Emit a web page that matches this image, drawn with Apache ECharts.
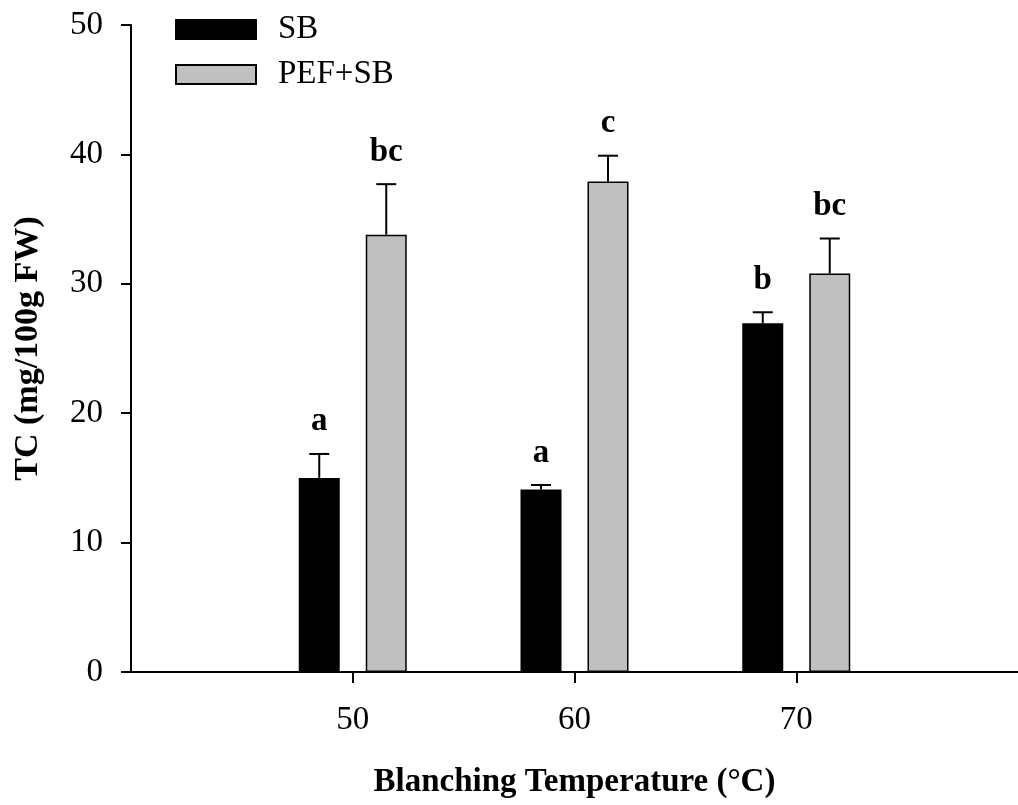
<!DOCTYPE html>
<html><head><meta charset="utf-8">
<script src="https://cdn.jsdelivr.net/npm/echarts@6/dist/echarts.min.js"></script>
<style>html,body{margin:0;padding:0;background:#fff}#c{width:1018px;height:805px}</style>
</head><body><div id="c"></div>
<script>
const temps = [50, 60, 70];
const sbMean = [15.0, 14.1, 26.95];
const sbErr = [1.85, 0.35, 0.85];
const sbLetters = ['a', 'a', 'b'];
const pefMean = [33.8, 37.9, 30.8];
const pefErr = [3.9, 2.0, 2.7];
const pefLetters = ['bc', 'c', 'bc'];
const yTicks = [0, 10, 20, 30, 40, 50];

const FONT = '"Liberation Serif","Times New Roman",serif';
const BAR_W = 41, BAR_GAP = 26;
const OFF = (BAR_W + BAR_GAP) / 2;

function errSeries(name, means, errs, letters, dx) {
  return {
    type: 'custom', name: name + ' err', silent: true, z: 5,
    data: temps.map((t, i) => [t, means[i], errs[i]]),
    renderItem: function (params, api) {
      const x = api.value(0), m = api.value(1), e = api.value(2);
      const i = params.dataIndex;
      const p0 = api.coord([x, m]);
      const p1 = api.coord([x, m + e]);
      const cx = p0[0] + dx;
      return {
        type: 'group',
        children: [
          { type: 'line', shape: { x1: cx, y1: p0[1], x2: cx, y2: p1[1] }, style: { stroke: '#000', lineWidth: 2 } },
          { type: 'line', shape: { x1: cx - 10, y1: p1[1], x2: cx + 10, y2: p1[1] }, style: { stroke: '#000', lineWidth: 2 } },
          { type: 'text', x: cx, y: p1[1] - 32, style: { text: letters[i], fill: '#000', font: 'bold 33px ' + FONT, align: 'center', verticalAlign: 'middle' } }
        ]
      };
    }
  };
}

const chart = echarts.init(document.getElementById('c'), null, { renderer: 'canvas' });
chart.setOption({
  animation: false,
  backgroundColor: '#fff',
  grid: { left: 131, top: 25, bottom: 133, right: -9, containLabel: false },
  legend: {
    orient: 'vertical', left: 170, top: 8, itemWidth: 80, itemHeight: 19, itemGap: 12,
    icon: 'rect',
    data: ['SB', 'PEF+SB'],
    textStyle: { fontFamily: FONT, fontSize: 33, color: '#000', padding: [0, 0, 0, 17] }
  },
  xAxis: {
    type: 'value', min: 40, max: 80, interval: 10,
    name: 'Blanching Temperature (°C)', nameLocation: 'middle', nameGap: 94,
    nameTextStyle: { fontFamily: FONT, fontSize: 33, fontWeight: 'bold', color: '#000' },
    axisLine: { onZero: false, lineStyle: { color: '#000', width: 2 } },
    axisTick: { show: true, length: 11, lineStyle: { color: '#000', width: 2 }, customValues: temps },
    axisLabel: { customValues: temps, margin: 32, fontFamily: FONT, fontSize: 33, color: '#000' },
    splitLine: { show: false }
  },
  yAxis: {
    type: 'value', min: 0, max: 50, interval: 10,
    name: 'TC (mg/100g FW)', nameLocation: 'middle', nameGap: 86, nameRotate: 90,
    nameTextStyle: { fontFamily: FONT, fontSize: 34, fontWeight: 'bold', color: '#000' },
    axisLine: { show: true, lineStyle: { color: '#000', width: 2 } },
    axisTick: { show: true, length: 10, lineStyle: { color: '#000', width: 2 } },
    axisLabel: { margin: 28, fontFamily: FONT, fontSize: 33, color: '#000', formatter: v => yTicks.includes(v) ? String(v) : '' },
    splitLine: { show: false }
  },
  series: [
    { type: 'bar', name: 'SB', barWidth: BAR_W, barGap: (BAR_GAP / BAR_W * 100) + '%',
      itemStyle: { color: '#000', borderColor: '#000', borderWidth: 1.5 },
      data: temps.map((t, i) => [t, sbMean[i]]) },
    { type: 'bar', name: 'PEF+SB', barWidth: BAR_W, barGap: (BAR_GAP / BAR_W * 100) + '%',
      itemStyle: { color: '#c0c0c0', borderColor: '#000', borderWidth: 1.5 },
      data: temps.map((t, i) => [t, pefMean[i]]) },
    errSeries('SB', sbMean, sbErr, sbLetters, -OFF),
    errSeries('PEF+SB', pefMean, pefErr, pefLetters, OFF)
  ]
});
</script></body></html>
